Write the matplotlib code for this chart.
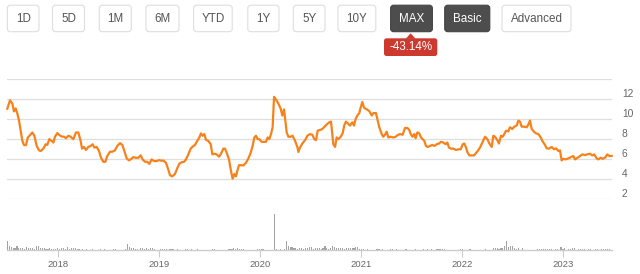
import numpy as np
import pandas as pd
import matplotlib
matplotlib.use("Agg")
import matplotlib.pyplot as plt
from matplotlib.patches import FancyBboxPatch, Polygon
from matplotlib.transforms import offset_copy

plt.rcParams['font.family'] = ['Liberation Sans', 'DejaVu Sans']

# price line, x in decimal years
price_t = [
    2017.501, 2017.528, 2017.551, 2017.567, 2017.584, 2017.600, 2017.617, 2017.633, 2017.650, 2017.666,
    2017.686, 2017.703, 2017.726, 2017.749, 2017.769, 2017.792, 2017.815, 2017.831, 2017.858, 2017.881,
    2017.897, 2017.917, 2017.940, 2017.957, 2017.973, 2017.996, 2018.016, 2018.039, 2018.062, 2018.082,
    2018.105, 2018.128, 2018.155, 2018.181, 2018.204, 2018.227, 2018.241, 2018.260, 2018.280, 2018.303,
    2018.326, 2018.346, 2018.363, 2018.386, 2018.409, 2018.429, 2018.452, 2018.472, 2018.491, 2018.518,
    2018.541, 2018.567, 2018.590, 2018.617, 2018.640, 2018.660, 2018.683, 2018.706, 2018.726, 2018.749,
    2018.775, 2018.798, 2018.821, 2018.841, 2018.864, 2018.887, 2018.907, 2018.930, 2018.953, 2018.980,
    2019.006, 2019.029, 2019.046, 2019.072, 2019.095, 2019.112, 2019.135, 2019.161, 2019.185, 2019.204,
    2019.227, 2019.251, 2019.270, 2019.293, 2019.317, 2019.336, 2019.359, 2019.383, 2019.402, 2019.419,
    2019.435, 2019.452, 2019.468, 2019.491, 2019.515, 2019.531, 2019.551, 2019.574, 2019.597, 2019.617,
    2019.640, 2019.656, 2019.673, 2019.696, 2019.713, 2019.732, 2019.749, 2019.765, 2019.779, 2019.795,
    2019.815, 2019.838, 2019.864, 2019.888, 2019.911, 2019.930, 2019.947, 2019.963, 2019.980, 2019.996,
    2020.019, 2020.043, 2020.062, 2020.079, 2020.095, 2020.112, 2020.128, 2020.142, 2020.161, 2020.185,
    2020.208, 2020.224, 2020.241, 2020.254, 2020.267, 2020.284, 2020.307, 2020.326, 2020.350, 2020.373,
    2020.383, 2020.399, 2020.422, 2020.449, 2020.472, 2020.498, 2020.521, 2020.541, 2020.558, 2020.574,
    2020.597, 2020.620, 2020.643, 2020.670, 2020.689, 2020.706, 2020.719, 2020.729, 2020.746, 2020.762,
    2020.779, 2020.802, 2020.821, 2020.838, 2020.854, 2020.871, 2020.894, 2020.917, 2020.934, 2020.950,
    2020.967, 2020.986, 2020.999, 2021.016, 2021.033, 2021.049, 2021.066, 2021.085, 2021.109, 2021.125,
    2021.151, 2021.168, 2021.184, 2021.208, 2021.224, 2021.244, 2021.257, 2021.274, 2021.297, 2021.323,
    2021.346, 2021.366, 2021.389, 2021.415, 2021.439, 2021.462, 2021.481, 2021.495, 2021.514, 2021.531,
    2021.544, 2021.561, 2021.580, 2021.597, 2021.613, 2021.630, 2021.646, 2021.663, 2021.686, 2021.709,
    2021.729, 2021.752, 2021.775, 2021.795, 2021.818, 2021.841, 2021.858, 2021.874, 2021.894, 2021.917,
    2021.944, 2021.967, 2021.990, 2022.010, 2022.026, 2022.043, 2022.059, 2022.076, 2022.099, 2022.122,
    2022.158, 2022.181, 2022.204, 2022.231, 2022.254, 2022.274, 2022.297, 2022.313, 2022.330, 2022.353,
    2022.369, 2022.389, 2022.406, 2022.422, 2022.439, 2022.462, 2022.478, 2022.501, 2022.521, 2022.544,
    2022.561, 2022.577, 2022.594, 2022.620, 2022.643, 2022.660, 2022.676, 2022.693, 2022.716, 2022.736,
    2022.759, 2022.782, 2022.802, 2022.825, 2022.841, 2022.864, 2022.891, 2022.914, 2022.934, 2022.957,
    2022.973, 2022.990, 2023.006, 2023.029, 2023.056, 2023.082, 2023.105, 2023.122, 2023.148, 2023.171,
    2023.194, 2023.221, 2023.244, 2023.270, 2023.293, 2023.313, 2023.336, 2023.353, 2023.376, 2023.396,
    2023.419, 2023.442, 2023.462, 2023.485,
]
price = [
    11.05, 11.90, 11.56, 10.78, 11.08, 10.58, 9.86, 8.85, 7.83, 7.42,
    7.39, 8.14, 8.41, 8.67, 8.34, 7.32, 6.88, 6.81, 7.05, 7.49,
    7.42, 8.00, 7.83, 7.66, 8.24, 8.61, 8.41, 8.27, 8.24, 8.10,
    8.34, 8.24, 8.00, 8.67, 8.67, 7.83, 7.05, 7.22, 6.92, 7.22,
    7.32, 7.49, 7.15, 7.22, 6.81, 6.13, 5.73, 5.73, 6.30, 6.74,
    6.74, 6.88, 7.32, 7.60, 7.42, 6.81, 6.07, 5.87, 6.00, 6.20,
    6.13, 6.13, 6.38, 5.97, 5.73, 5.73, 5.52, 5.97, 5.80, 5.80,
    5.90, 5.83, 5.86, 5.63, 4.95, 4.37, 4.27, 4.51, 5.12, 5.53,
    5.69, 5.73, 5.97, 6.47, 7.05, 7.25, 7.42, 7.83, 8.17, 8.58,
    8.34, 8.51, 7.93, 7.83, 7.49, 6.47, 6.54, 6.47, 6.24, 6.54,
    7.05, 7.05, 6.64, 5.97, 4.95, 4.03, 4.51, 4.27, 4.85, 5.39,
    5.39, 5.36, 5.63, 6.07, 6.64, 7.32, 8.17, 8.34, 8.00, 8.00,
    7.73, 7.73, 7.73, 8.17, 8.00, 8.51, 9.19, 12.24, 11.97, 11.56,
    11.05, 10.37, 10.98, 9.86, 8.68, 8.24, 8.24, 8.34, 7.83, 7.22,
    6.71, 7.15, 7.56, 7.90, 8.34, 8.51, 8.44, 8.00, 7.90, 8.85,
    8.92, 9.02, 9.25, 9.53, 9.69, 9.76, 8.51, 7.49, 7.22, 8.17,
    8.00, 8.24, 8.58, 9.42, 9.76, 9.59, 9.36, 9.69, 9.36, 10.03,
    10.37, 10.61, 11.15, 11.73, 11.15, 11.05, 10.95, 10.81, 10.37, 10.61,
    10.61, 9.86, 9.19, 8.51, 8.24, 8.51, 8.75, 8.17, 8.24, 8.17,
    8.24, 8.41, 8.51, 8.44, 9.12, 9.12, 8.92, 8.51, 8.24, 8.51,
    8.10, 8.68, 8.58, 8.17, 8.00, 7.83, 7.32, 7.22, 7.32, 7.42,
    7.32, 7.49, 7.56, 7.73, 7.66, 7.49, 7.66, 7.15, 7.05, 7.05,
    6.92, 6.98, 6.98, 7.49, 7.56, 7.15, 6.64, 6.37, 6.37, 6.37,
    6.81, 7.15, 7.66, 8.24, 8.00, 7.56, 7.22, 8.34, 8.24, 7.90,
    7.56, 8.34, 8.24, 8.51, 8.85, 8.78, 9.19, 9.02, 9.25, 9.36,
    9.86, 9.76, 9.25, 9.25, 9.19, 9.46, 9.86, 9.02, 8.75, 8.58,
    8.51, 8.17, 7.76, 7.42, 7.08, 7.05, 7.22, 6.98, 7.08, 6.81,
    6.88, 5.86, 6.03, 5.97, 6.07, 6.20, 6.31, 5.97, 6.14, 6.31,
    6.47, 6.41, 6.47, 6.54, 6.37, 6.47, 6.07, 5.97, 6.14, 6.03,
    6.14, 6.47, 6.31, 6.31,
]

# weekly volume (100k shares), weeks starting 2017-07-03
volume_start = "2017-07-03"
weekly_volume = [
    9, 4, 3, 2.5, 2.5, 4, 2, 2, 2, 1.5, 3, 2, 2, 2, 1.5, 4, 4, 2, 2, 2,
    1.5, 1, 2, 1.5, 1, 1.5, 2, 1, 2, 2, 1, 3, 1, 2, 2, 2, 1.5, 1, 0.5, 1,
    0.5, 1.5, 0.5, 0.5, 1.5, 0.5, 0, 0.5, 1.5, 0.5, 1, 0.5, 0, 0.5, 0, 1.5, 1.5, 0.5, 0, 0.5,
    0, 1, 6, 3, 2, 2, 1.5, 1, 0.5, 2, 2, 1.5, 2, 1, 2, 2.5, 1, 0.5, 0, 1.5,
    1, 1.5, 1, 0, 1.5, 1, 1.5, 0.5, 1.5, 0.5, 0, 0.5, 1, 1.5, 0.5, 1.5, 0.5, 0, 1.5, 0.5,
    0, 0, 0.5, 0, 0, 0.5, 1.5, 1, 0, 0.5, 0, 0.5, 0.5, 0.5, 1.5, 1.5, 1.5, 2.5, 1.5, 2,
    1.5, 1.5, 1, 0, 0.5, 0, 0.5, 0, 0.5, 1.5, 1.5, 1.5, 1.5, 0.5, 0, 0.5, 0, 0.5, 36.5, 1.5,
    0.5, 1.5, 0.5, 1, 9, 4, 3.5, 3, 2, 2, 1.5, 2, 2, 1.5, 2.5, 2.5, 3.5, 3, 1.5, 2,
    2.5, 2.5, 1.5, 2, 4.5, 2.5, 1.5, 2, 4.5, 3, 2.5, 2, 2, 2.5, 1.5, 2.5, 2.5, 2.5, 2.5, 2,
    3.5, 3, 1.5, 1.5, 1, 0.5, 1, 0.5, 0, 0.5, 0.5, 1, 1, 0.5, 1, 0.5, 0, 0.5, 1, 1,
    0.5, 1, 0, 0.5, 0, 0.5, 1.5, 0.5, 0, 0.5, 0, 1, 0.5, 0, 0.5, 1, 0.5, 1, 0.5, 1,
    0, 0.5, 1, 1, 1.5, 1, 1, 0.5, 0, 0.5, 0, 0.5, 0, 0.5, 1, 1, 0, 0.5, 0, 1.5,
    0.5, 0, 0.5, 0, 0, 0.5, 0, 1, 0.5, 0, 0.5, 2.5, 2.5, 2, 1.5, 2.5, 2.5, 4.5, 9.5, 3.5,
    4.5, 4.5, 2, 1, 2, 0.5, 2.5, 0.5, 0.5, 0.5, 0.5, 0.5, 0.5, 0.5, 1, 1, 1, 1, 1, 1.5,
    1.5, 1.5, 0.5, 1, 1, 0.5, 3.5, 1.5, 2, 0.5, 1, 1, 2, 2, 0.5, 1, 1, 1, 1, 0.5,
    0.7, 0.7, 0.5, 0.5, 1, 1, 0.5, 0.7, 0.7, 0.7, 0.7, 0.7,
]

price_gridlines = [2, 4, 6, 8, 10, 12, 14]
price_labels = ["2", "4", "6", "8", "10", "12"]
years = [2018, 2019, 2020, 2021, 2022, 2023]
range_buttons = ["1D", "5D", "1M", "6M", "YTD", "1Y", "5Y", "10Y", "MAX", "Basic", "Advanced"]
active_buttons = ["MAX", "Basic"]
change_label = "-43.14%"

W, H = 640, 274
fig = plt.figure(figsize=(W / 100, H / 100), dpi=100)
fig.patch.set_facecolor("white")

def fx(px):
    return px / W

def fy(py):
    return 1 - py / H

# --- button bar (pixel coordinates) ---
ui = fig.add_axes([0, 0, 1, 1])
ui.set_xlim(0, W)
ui.set_ylim(H, 0)
ui.axis("off")

btn_x = [(7.4, 39), (52.5, 84.5), (99.3, 131.3), (146, 179), (193.6, 232.2), (247.8, 279),
         (293.3, 325), (338, 375.8), (390.6, 432.4), (444.7, 489.8), (502, 571)]
btn_top, btn_bot = 5.2, 31.7
for lab, (x0, x1) in zip(range_buttons, btn_x):
    dark = lab in active_buttons
    box = FancyBboxPatch((x0, btn_top), x1 - x0, btn_bot - btn_top,
                         boxstyle="round,pad=0,rounding_size=3",
                         fc="#4d4d4d" if dark else "white",
                         ec="#444444" if dark else "#dedede", lw=0.8)
    ui.add_patch(box)
    ui.text((x0 + x1) / 2, (btn_top + btn_bot) / 2 + 0.3, lab, ha="center", va="center",
            fontsize=8.4, color="white" if dark else "#555555")

# red change badge under MAX
bx0, bx1, by0, by1 = 384, 437.3, 38.3, 56
badge = FancyBboxPatch((bx0, by0), bx1 - bx0, by1 - by0,
                       boxstyle="round,pad=0,rounding_size=2.5", fc="#cc3a2f", ec="none")
ui.add_patch(badge)
cx = (bx0 + bx1) / 2
ui.add_patch(Polygon([(cx - 5, by0 + 0.5), (cx, by0 - 5), (cx + 5, by0 + 0.5)],
                     closed=True, fc="#cc3a2f", ec="none"))
ui.text(cx, (by0 + by1) / 2 + 0.3, change_label, ha="center", va="center",
        fontsize=8.4, color="white")

# --- price panel ---
x_left, x_right = 7, 612
t_left = 2018 + (x_left - 57.7) / 101
t_right = 2018 + (x_right - 57.7) / 101

ax = fig.add_axes([fx(x_left), fy(199), fx(x_right - x_left), (199 - 79.3) / H])
ax.set_xlim(t_left, t_right)
ax.set_ylim(2, 14)
for s in ax.spines.values():
    s.set_visible(False)
ax.set_yticks(price_gridlines)
ax.set_yticklabels([])
ax.set_xticks([])
ax.tick_params(axis="y", length=0)
ax.grid(axis="y", color="#dedede", lw=0.9)
ax.set_axisbelow(True)
ax.plot(price_t, price, color="#f7821b", lw=1.6, solid_joinstyle="round", clip_on=False)

lab_tr = offset_copy(ax.get_yaxis_transform(), fig=fig, x=0, y=5, units="dots")
for v, s in zip(price_gridlines, price_labels):
    ax.text((622 - x_left) / (x_right - x_left), v, s, transform=lab_tr,
            ha="left", va="center", fontsize=7.4, color="#666666")

# --- volume panel ---
vol_dates = pd.date_range(volume_start, periods=len(weekly_volume), freq="7D")
vol_t = vol_dates.year + (vol_dates.dayofyear - 1) / 365.25

axv = fig.add_axes([fx(x_left), fy(250), fx(x_right - x_left), 45 / H])
axv.set_xlim(t_left, t_right)
axv.set_ylim(0, 45)
axv.bar(vol_t, weekly_volume, width=0.011, color="#a3a3a3", lw=0, align="center")
for k in ["top", "left", "right"]:
    axv.spines[k].set_visible(False)
axv.spines["bottom"].set_color("#cccccc")
axv.spines["bottom"].set_linewidth(1)
axv.set_yticks([])
axv.set_xticks(years)
axv.set_xticklabels([str(y) for y in years])
axv.tick_params(axis="x", length=5, width=0.8, color="#cccccc", pad=2,
                labelsize=6.8, labelcolor="#666666")

fig.savefig("out.png", dpi=100, facecolor="white")
